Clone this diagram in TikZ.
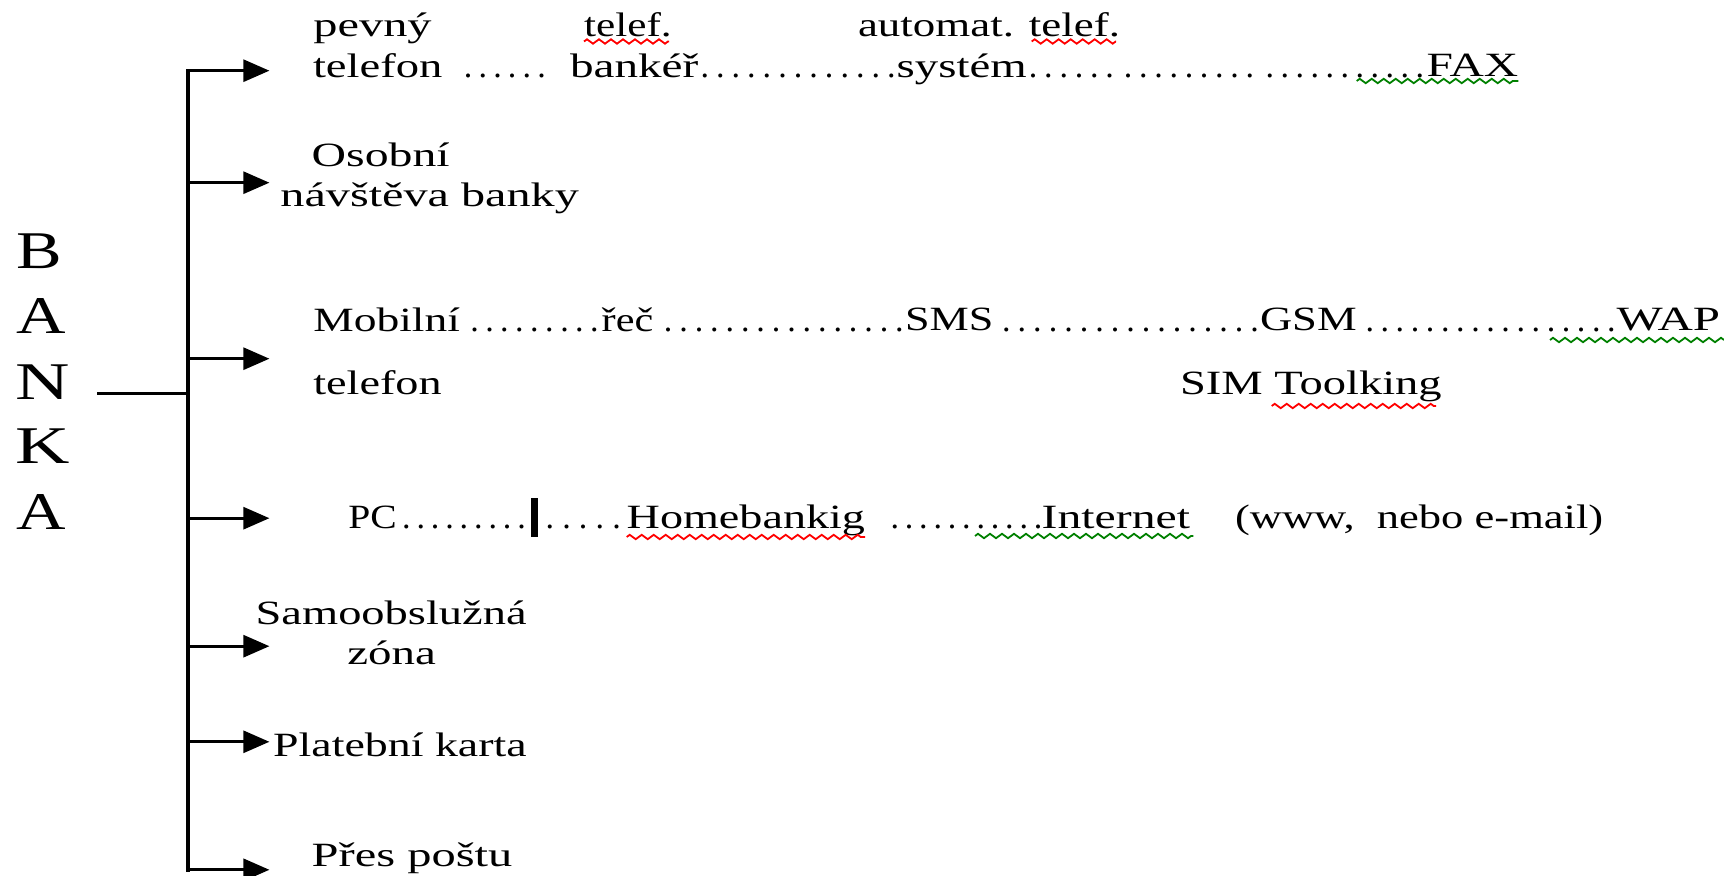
\documentclass[tikz,border=0pt]{standalone}
\usepackage{fontspec}
\setmainfont{Liberation Serif}
\usepackage{graphicx}
\usetikzlibrary{arrows.meta,decorations.pathmorphing}
\definecolor{gramgreen}{RGB}{0,128,0}
\newcommand\dotrun[2]{\hbox to #2{\cleaders\hbox to \dimexpr#2/#1\relax{\hss.\hss}\hfill}}
\newcommand\sx[2]{\resizebox{#1}{\height}{#2}}
\begin{document}
\begin{tikzpicture}[x=0.5pt,y=-0.5pt,
  txt/.style={inner sep=0pt,outer sep=0pt,anchor=base west,font=\fontsize{17pt}{20pt}\selectfont},
  big/.style={txt,font=\fontsize{26.5pt}{30pt}\selectfont},
  spine/.style={line width=2pt,line cap=rect},
  branch/.style={line width=1.4pt,-{Triangle[length=13pt,width=11pt]}},
  stubline/.style={line width=1.4pt},
  spell/.style={draw=red,line width=0.9pt,decorate,decoration={zigzag,segment length=6pt,amplitude=1.1pt}},
  gram/.style={spell,draw=gramgreen}]
\useasboundingbox (0,0) rectangle (1724,876);
% BANKA
\node[big] (lB) at (16.5,268.3) {\sx{22.8pt}{B}};
\node[big] (lA1) at (16.5,333.3) {\sx{24.75pt}{A}};
\node[big] (lN) at (15.4,399.3) {\sx{27.2pt}{N}};
\node[big] (lK) at (15.4,463.5) {\sx{27.2pt}{K}};
\node[big] (lA2) at (16.5,529.7) {\sx{24.75pt}{A}};
% connectors
\coordinate (stub) at (97.3,393.7);
\coordinate (jb) at (188,393.7);
\coordinate (j1) at (188,70.7);
\coordinate (j2) at (188,182.7);
\coordinate (j3) at (188,358.7);
\coordinate (j4) at (188,518.2);
\coordinate (j5) at (188,646.2);
\coordinate (j6) at (188,741.8);
\coordinate (j7) at (188,869.8);
\coordinate (t1) at (269.4,70.7);
\coordinate (t2) at (269.4,182.7);
\coordinate (t3) at (269.4,358.7);
\coordinate (t4) at (269.4,518.2);
\coordinate (t5) at (269.4,646.2);
\coordinate (t6) at (269.4,741.8);
\coordinate (t7) at (269.4,869.8);
\draw[spine] (j1) -- (j7);
\draw[stubline] (stub) -- (jb);
\draw[branch] (j1) -- (t1);
\draw[branch] (j2) -- (t2);
\draw[branch] (j3) -- (t3);
\draw[branch] (j4) -- (t4);
\draw[branch] (j5) -- (t5);
\draw[branch] (j6) -- (t6);
\draw[branch] (j7) -- (t7);
% row 1
\node[txt] (pevny) at (313.4,37) {\sx{59.1pt}{pevný}};
\node[txt] (telefA) at (584,37) {\sx{43.85pt}{telef.}};
\node[txt] (automat) at (858,37) {\sx{131pt}{automat. telef.}};
\node[txt] (telefon1) at (313,77.7) {\sx{64.75pt}{telefon}};
\node[txt] (d1a) at (460.9,78) {\dotrun{6}{44pt}};
\node[txt] (banker) at (570,78) {\sx{64.15pt}{bankéř}};
\node[txt] (d1b) at (697.0,78) {\dotrun{13}{101.1pt}};
\node[txt] (system) at (896.7,77.7) {\sx{65pt}{systém}};
\node[txt] (d1c) at (1025.5,78) {\dotrun{6}{45.96pt}};
\node[txt] (d1d) at (1120.6,78) {\dotrun{9}{68.4pt}};
\node[txt] (d1e) at (1262.3,78) {\dotrun{11}{82.5pt}};
\node[txt] (fax) at (1426.7,77) {\sx{45.8pt}{FAX}};
\draw[spell] (584,41.5) -- (669,41.5);
\draw[spell] (1031.7,41.5) -- (1116,41.5);
\draw[gram] (1356.7,81) -- (1518.3,81);
% row 2
\node[txt] (osobni) at (311.7,166.7) {\sx{69pt}{Osobní}};
\node[txt] (navsteva) at (280.4,206.7) {\sx{149.25pt}{návštěva banky}};
% row 3
\node[txt] (mobilni) at (313.3,331.7) {\sx{73.35pt}{Mobilní}};
\node[txt] (d3a) at (467,331.5) {\dotrun{9}{67.5pt}};
\node[txt] (rec) at (601.7,331.5) {\sx{25.8pt}{řeč}};
\node[txt] (d3b) at (660.5,331.5) {\dotrun{16}{123.36pt}};
\node[txt] (sms) at (905,330.5) {\sx{44.15pt}{SMS}};
\node[txt] (d3c) at (998.7,331.5) {\dotrun{17}{131.9pt}};
\node[txt] (gsm) at (1260,330.5) {\sx{48.35pt}{GSM}};
\node[txt] (d3d) at (1362.2,331.5) {\dotrun{17}{128.4pt}};
\node[txt] (wap) at (1616.7,330.5) {\sx{51.65pt}{WAP}};
\draw[gram] (1550,340) -- (1724,340);
\node[txt] (telefon2) at (313.3,395) {\sx{64.2pt}{telefon}};
\node[txt] (sim) at (1180,395) {\sx{130.85pt}{SIM Toolking}};
\draw[spell] (1271.7,406) -- (1436,406);
% row 4
\node[txt] (pc) at (348.3,529) {\sx{24.2pt}{PC}};
\node[txt] (d4a) at (399.3,529) {\dotrun{9}{64.7pt}};
\fill (531,498.3) rectangle (538.3,536.7);
\node[txt] (d4b) at (541.5,529) {\dotrun{5}{41.7pt}};
\node[txt] (home) at (626.7,529) {\sx{119.15pt}{Homebankig}};
\node[txt] (d4c) at (887.6,529) {\dotrun{11}{78.85pt}};
\node[txt] (internet) at (1041.7,529) {\sx{74.15pt}{Internet}};
\node[txt] (www) at (1235,529) {\sx{184.15pt}{(www,~ nebo e-mail)}};
\draw[spell] (626.7,537) -- (865,537);
\draw[gram] (975,536) -- (1193.3,536);
% rows 5-7
\node[txt] (samo) at (255.6,624.7) {\sx{135.55pt}{Samoobslužná}};
\node[txt] (zona) at (347.4,664.7) {\sx{44.3pt}{zóna}};
\node[txt] (platebni) at (273.2,756.3) {\sx{126.75pt}{Platební karta}};
\node[txt] (pres) at (311.7,866.3) {\sx{100.35pt}{Přes poštu}};
\end{tikzpicture}
\end{document}
